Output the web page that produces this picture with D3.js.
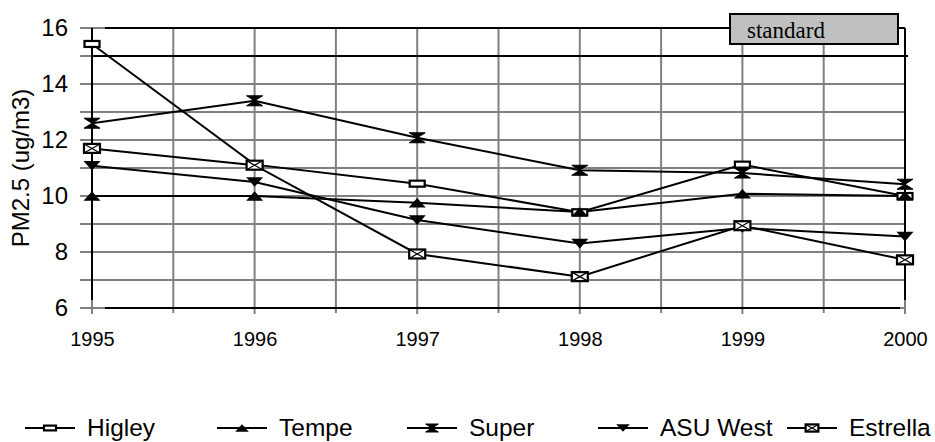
<!DOCTYPE html>
<html><head><meta charset="utf-8">
<script src="https://cdn.jsdelivr.net/npm/d3@7"></script>
<style>
html,body{margin:0;padding:0;background:#fff;}
svg{display:block;}
</style></head>
<body>
<svg id="chart" width="935" height="442"></svg>
<script>
const years = [1995, 1996, 1997, 1998, 1999, 2000];
const higley   = [15.43, 11.12, 10.44, 9.42, 11.12, 10.0];
const tempe    = [10.0, 10.0, 9.76, 9.43, 10.08, 10.0];
const superS   = [12.6, 13.4, 12.08, 10.92, 10.82, 10.42];
const asuWest  = [11.08, 10.5, 9.14, 8.3, 8.86, 8.55];
const estrella = [11.7, 11.1, 7.93, 7.12, 8.94, 7.72];
const seriesNames = ["Higley", "Tempe", "Super", "ASU West", "Estrella"];
const markerTypes = ["rect", "triUp", "bowtie", "triDown", "rectX"];
const standardValue = 15;
const standardLabel = "standard";
const yTicks = [6, 8, 10, 12, 14, 16];
const yTitle = "PM2.5 (ug/m3)";

const seriesData = [higley, tempe, superS, asuWest, estrella];

const svg = d3.select("#chart");
const x = d3.scaleLinear().domain([1995, 2000]).range([92, 905]);
const y = d3.scaleLinear().domain([6, 16]).range([308, 28]);
const grey = "#808080";

// grid horizontal (every unit)
svg.append("g").selectAll("line").data(d3.range(6, 17, 1)).join("line")
  .attr("x1", 80).attr("x2", x(2000)).attr("y1", d => y(d)).attr("y2", d => y(d))
  .attr("stroke", grey).attr("stroke-width", 2);
// grid vertical (every half year)
svg.append("g").selectAll("line").data(d3.range(1995, 2000.01, 0.5)).join("line")
  .attr("x1", d => x(d)).attr("x2", d => x(d)).attr("y1", y(16))
  .attr("y2", d => Number.isInteger(d) ? y(6) + 6 : y(6) + 5)
  .attr("stroke", grey).attr("stroke-width", 2);

// frame
const frame = svg.append("g").attr("stroke", "#000").attr("stroke-width", 2);
frame.append("line").attr("x1", x(1995)).attr("x2", x(1995)).attr("y1", y(16)).attr("y2", y(6) - 8);
frame.append("line").attr("x1", x(2000)).attr("x2", x(2000)).attr("y1", y(16)).attr("y2", y(6) - 8);
frame.append("line").attr("x1", x(1995) + 13).attr("x2", x(2000)).attr("y1", y(16)).attr("y2", y(16));
frame.append("line").attr("x1", x(1995) + 13).attr("x2", x(2000) - 5).attr("y1", y(6)).attr("y2", y(6));

// standard line
svg.append("line").attr("x1", x(1995)).attr("x2", x(2000) + 3)
  .attr("y1", y(standardValue)).attr("y2", y(standardValue))
  .attr("stroke", "#000").attr("stroke-width", 2);

// axes labels
const yAxis = svg.append("g").attr("transform", `translate(${x(1995)},0)`)
  .call(d3.axisLeft(y).tickValues(yTicks).tickSize(0).tickPadding(24));
yAxis.select(".domain").remove();
yAxis.selectAll("text").attr("font-family", "Arial, 'Liberation Sans', sans-serif")
  .attr("font-size", 24).attr("fill", "#000");

const xAxis = svg.append("g").attr("transform", `translate(0,${y(6)})`)
  .call(d3.axisBottom(x).tickValues(years).tickFormat(d3.format("d")).tickSize(0).tickPadding(24));
xAxis.select(".domain").remove();
xAxis.selectAll("text").attr("font-family", "Arial, 'Liberation Sans', sans-serif")
  .attr("font-size", 20).attr("fill", "#000");

// y title
svg.append("text").attr("transform", "translate(29,168) rotate(-90)")
  .attr("text-anchor", "middle").attr("font-family", "Arial, 'Liberation Sans', sans-serif")
  .attr("font-size", 24).attr("fill", "#000").text(yTitle);

// marker drawing
function drawMarker(g, type, cx, cy, s) {
  if (type === "rect") {
    g.append("rect").attr("x", cx - 7.5 * s).attr("y", cy - 3 * s).attr("width", 15 * s).attr("height", 6 * s)
      .attr("fill", "#fff").attr("stroke", "#000").attr("stroke-width", 2.2);
  } else if (type === "rectX") {
    const hw = 8 * s, hh = 4.5 * s;
    g.append("rect").attr("x", cx - hw).attr("y", cy - hh).attr("width", 2 * hw).attr("height", 2 * hh)
      .attr("fill", "#fff").attr("stroke", "#000").attr("stroke-width", 2.2);
    g.append("path").attr("d", `M${cx - hw},${cy - hh}L${cx + hw},${cy + hh}M${cx - hw},${cy + hh}L${cx + hw},${cy - hh}`)
      .attr("stroke", "#000").attr("stroke-width", 1.2);
  } else if (type === "triUp") {
    const hw = 8.5 * s, hh = 4.8 * s;
    g.append("path").attr("d", `M${cx},${cy - hh}L${cx + hw},${cy + hh}L${cx - hw},${cy + hh}Z`).attr("fill", "#000");
  } else if (type === "triDown") {
    const hw = 8.5 * s, hh = 4.8 * s;
    g.append("path").attr("d", `M${cx},${cy + hh}L${cx + hw},${cy - hh}L${cx - hw},${cy - hh}Z`).attr("fill", "#000");
  } else if (type === "bowtie") {
    const hw = 8 * s, hh = 5 * s;
    g.append("path").attr("d", `M${cx - hw},${cy - hh}L${cx + hw},${cy - hh}L${cx},${cy}Z M${cx - hw},${cy + hh}L${cx + hw},${cy + hh}L${cx},${cy}Z`)
      .attr("fill", "#000").attr("stroke", "#000").attr("stroke-width", 1);
  }
}

const line = d3.line().x((d, i) => x(years[i])).y(d => y(d));
const plot = svg.append("g");
seriesData.forEach((vals, si) => {
  plot.append("path").attr("d", line(vals)).attr("fill", "none").attr("stroke", "#000").attr("stroke-width", 2);
});
seriesData.forEach((vals, si) => {
  const g = plot.append("g");
  vals.forEach((v, i) => drawMarker(g, markerTypes[si], x(years[i]), y(v), 1));
});

// standard box
const sb = svg.append("g");
sb.append("rect").attr("x", 730).attr("y", 14).attr("width", 168).attr("height", 30)
  .attr("fill", "#c0c0c0").attr("stroke", "#000").attr("stroke-width", 2);
sb.append("text").attr("x", 747).attr("y", 38).attr("font-family", "'Liberation Serif', 'Times New Roman', serif")
  .attr("font-size", 23).attr("fill", "#000").text(standardLabel);

// legend
const legendX = [25, 217, 407, 598, 787];
const leg = svg.append("g");
seriesNames.forEach((name, i) => {
  const lx = legendX[i], ly = 428;
  leg.append("line").attr("x1", lx).attr("x2", lx + 50).attr("y1", ly).attr("y2", ly)
    .attr("stroke", "#000").attr("stroke-width", 2);
  const g = leg.append("g");
  drawMarker(g, markerTypes[i], lx + 25, ly, 0.8);
  leg.append("text").attr("x", lx + 62).attr("y", 436)
    .attr("font-family", "Arial, 'Liberation Sans', sans-serif").attr("font-size", 24.5)
    .attr("fill", "#000").text(name);
});
</script>
</body></html>
